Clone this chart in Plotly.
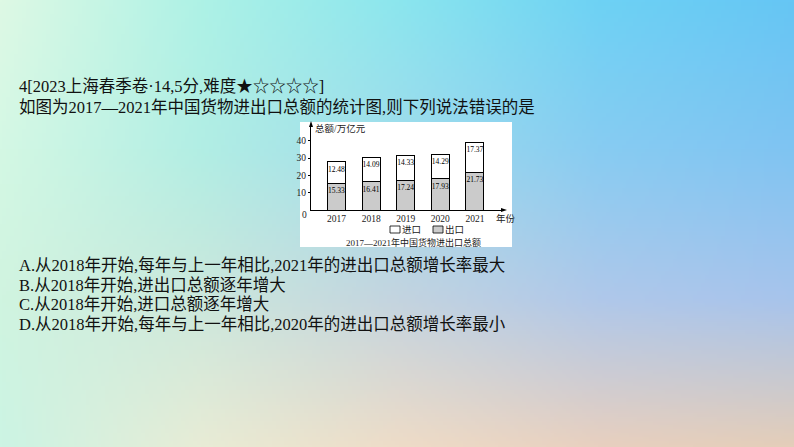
import base64
import struct
import zlib

import numpy as np
import plotly.graph_objects as go

# chart data (万亿元)
years = [2017, 2018, 2019, 2020, 2021]
exports = [15.33, 16.41, 17.24, 17.93, 21.73]   # 出口
imports = [12.48, 14.09, 14.33, 14.29, 17.37]   # 进口
y_ticks = [10, 20, 30, 40]

heading = "4[2023上海春季卷·14,5分,难度★☆☆☆☆]"
question = "如图为2017—2021年中国货物进出口总额的统计图,则下列说法错误的是"
options = [
    "A.从2018年开始,每年与上一年相比,2021年的进出口总额增长率最大",
    "B.从2018年开始,进出口总额逐年增大",
    "C.从2018年开始,进口总额逐年增大",
    "D.从2018年开始,每年与上一年相比,2020年的进出口总额增长率最小",
]

W, H = 794, 447
SERIF = "Liberation Serif, Noto Sans CJK SC"


def px(x):
    return x / W


def py(y):
    return 1 - y / H


def png_uri(img):
    # tiny png writer so the slide gradient can sit behind everything
    h, w, _ = img.shape
    raw = b"".join(b"\x00" + img[r].tobytes() for r in range(h))

    def chunk(tag, data):
        out = struct.pack(">I", len(data)) + tag + data
        return out + struct.pack(">I", zlib.crc32(tag + data) & 0xFFFFFFFF)

    png = (b"\x89PNG\r\n\x1a\n"
           + chunk(b"IHDR", struct.pack(">IIBBBBB", w, h, 8, 2, 0, 0, 0))
           + chunk(b"IDAT", zlib.compress(raw, 9))
           + chunk(b"IEND", b""))
    return "data:image/png;base64," + base64.b64encode(png).decode()


def hexrgb(c):
    return [int(c[i:i + 2], 16) for i in (1, 3, 5)]


# background gradient control colours
gx = [0, 200, 400, 600, 794]
gy = [0, 150, 300, 447]
grid = [
    ["#def9e4", "#aef2e6", "#8ce6ee", "#6ed2f4", "#66c6f4"],
    ["#d4f8e4", "#b2eee4", "#a0dcec", "#88ccf2", "#80c4f2"],
    ["#d0f4e0", "#cce8dc", "#c4d4e0", "#b0c8ea", "#a8c4ec"],
    ["#ccf4e4", "#e8ecd6", "#eedcc8", "#e8d0c0", "#e4ceba"],
]
ctrl = np.array([[hexrgb(c) for c in row] for row in grid], dtype=float)
bw, bh = 200, 113
xs = np.linspace(0, W, bw)
ys = np.linspace(0, H, bh)
rows = np.stack([np.stack([np.interp(xs, gx, ctrl[r, :, k]) for k in range(3)], -1)
                 for r in range(len(gy))])
bg = np.stack([np.stack([np.interp(ys, gy, rows[:, c, k]) for k in range(3)], -1)
               for c in range(bw)], 1)
bg = np.clip(bg, 0, 255).astype(np.uint8)

label_font = dict(size=7.5, color="black", family=SERIF)

fig = go.Figure()
fig.add_trace(go.Bar(
    x=years, y=exports, name="出口", width=0.52,
    marker=dict(color="#cbcbcb", line=dict(color="black", width=1)),
    text=[f"{v:.2f}" for v in exports], textposition="inside", textangle=0,
    insidetextanchor="end", constraintext="none",
    textfont=label_font, insidetextfont=label_font,
))
fig.add_trace(go.Bar(
    x=years, y=imports, name="进口", width=0.52,
    marker=dict(color="white", line=dict(color="black", width=1)),
    text=[f"{v:.2f}" for v in imports], textposition="inside", textangle=0,
    insidetextanchor="end", constraintext="none",
    textfont=label_font, insidetextfont=label_font,
))

ann = []
# slide text
for txt, y in zip([heading, question] + options, [86, 107, 265, 285, 304, 324]):
    ann.append(dict(text=txt, x=px(17), y=py(y), xanchor="left", yanchor="middle",
                    font=dict(size=16.5, color="#111111", family=SERIF)))
# chart labels
ann += [
    dict(text="总额/万亿元", x=px(313), y=py(128), xanchor="left", yanchor="middle",
         font=dict(size=9.5, color="#222", family=SERIF)),
    dict(text="0", x=px(304), y=py(215), xanchor="center", yanchor="middle",
         font=dict(size=9.5, color="#222", family=SERIF)),
    dict(text="年份", x=px(494), y=py(218), xanchor="left", yanchor="middle",
         font=dict(size=9.5, color="#222", family=SERIF)),
    dict(text="进口", x=px(400), y=py(229.5), xanchor="left", yanchor="middle",
         font=dict(size=9.5, color="#222", family=SERIF)),
    dict(text="出口", x=px(443), y=py(229.5), xanchor="left", yanchor="middle",
         font=dict(size=9.5, color="#222", family=SERIF)),
    dict(text="2017—2021年中国货物进出口总额", x=px(413), y=py(242.5),
         xanchor="center", yanchor="middle",
         font=dict(size=9, color="#222", family=SERIF)),
]
for a in ann:
    a.update(xref="paper", yref="paper", showarrow=False)

shapes = [
    # white picture box
    dict(type="rect", x0=px(300), x1=px(512), y0=py(247), y1=py(122),
         fillcolor="white", line=dict(width=0), layer="below"),
    # legend keys
    dict(type="rect", x0=px(390), x1=px(400), y0=py(233), y1=py(226),
         fillcolor="white", line=dict(color="black", width=0.8)),
    dict(type="rect", x0=px(433), x1=px(443), y0=py(233), y1=py(226),
         fillcolor="#cbcbcb", line=dict(color="black", width=0.8)),
    # axis arrowheads
    dict(type="path", path=f"M {px(507)} {py(210)} L {px(501)} {py(208)} L {px(501)} {py(212)} Z",
         fillcolor="black", line=dict(width=0)),
    dict(type="path", path=f"M {px(311)} {py(121)} L {px(309)} {py(127)} L {px(313)} {py(127)} Z",
         fillcolor="black", line=dict(width=0)),
]
for s in shapes:
    s.update(xref="paper", yref="paper")

fig.update_layout(
    width=W, height=H, margin=dict(l=0, r=0, t=0, b=0),
    paper_bgcolor="white", plot_bgcolor="rgba(0,0,0,0)",
    barmode="stack", showlegend=False,
    font=dict(family=SERIF, color="#222"),
    annotations=ann, shapes=shapes,
    images=[dict(source=png_uri(bg), xref="paper", yref="paper", x=0, y=1,
                 sizex=1, sizey=1, xanchor="left", yanchor="top",
                 sizing="stretch", layer="below")],
    xaxis=dict(domain=[px(311), px(504)], range=[2016.263, 2021.838],
               tickvals=years, ticks="", showline=True, linecolor="black",
               linewidth=1, showgrid=False, zeroline=False,
               tickfont=dict(size=9.5, family=SERIF)),
    yaxis=dict(domain=[py(210), py(124)], range=[0, 49.7],
               tickvals=y_ticks, ticks="outside", ticklen=2, tickcolor="black",
               showline=True, linecolor="black", linewidth=1, showgrid=False,
               zeroline=False, tickfont=dict(size=9.5, family=SERIF)),
)

# page has a default body margin; drop it so the figure fills the window
fig.write_html("out.html", config={"displayModeBar": False},
               post_script="document.body.style.margin='0';"
                           "document.body.style.overflow='hidden';")
